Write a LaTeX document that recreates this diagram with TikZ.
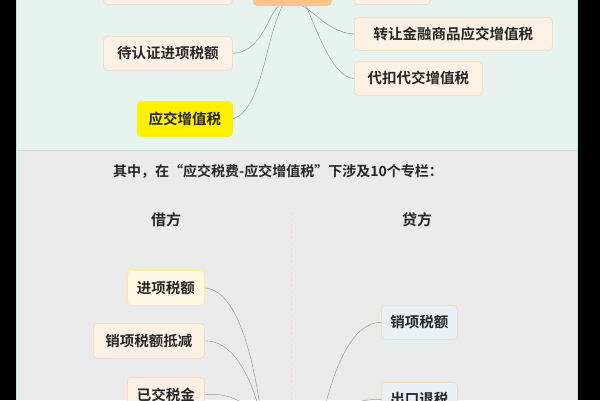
\documentclass[tikz,border=0pt]{standalone}
\usepackage{fontspec}
\setmainfont{Noto Sans CJK SC Bold}
\definecolor{topbg}{HTML}{E7F3EE}
\definecolor{botbg}{HTML}{EBEBEB}
\definecolor{edge}{HTML}{BFE3D6}
\definecolor{obox}{HTML}{FDF1E6}
\definecolor{obord}{HTML}{F7DCC4}
\definecolor{cbox}{HTML}{FBC48F}
\definecolor{ybord}{HTML}{FBEE9A}
\definecolor{yfill}{HTML}{FEF7E3}
\definecolor{bfill}{HTML}{EAF0F8}
\begin{document}
\begin{tikzpicture}[x=1pt,y=-1pt,
 box/.style={rounded corners=4pt,draw=obord,line width=0.8pt,fill=obox,inner sep=0pt,font=\fontsize{14.5}{14.5}\selectfont,text=black!85},
 ybox/.style={box,draw=ybord,fill=yfill},
 bbox/.style={box,draw=obord,fill=bfill},
 hl/.style={box,draw=yellow,fill=yellow},
 cn/.style={draw=black!40,line width=0.5pt}]
\useasboundingbox (0,0) rectangle (600,400);
\fill[black] (0,0) rectangle (600,400);
\fill[topbg] (16,0) rectangle (578,150);
\fill[botbg] (16,150) rectangle (578,400);
\draw[edge,line width=0.8pt] (16,150) -- (578,150);
\draw[edge,line width=0.8pt] (16.5,0) -- (16.5,400) (577.5,0)--(577.5,400);
% top
\node[box,minimum width=129,minimum height=34,anchor=south west] (tl) at (103,5) {};
\node[box,fill=cbox,draw=cbox,minimum width=78,minimum height=34,anchor=south west] (c) at (253,6) {};
\node[box,minimum width=76,minimum height=34,anchor=south west] (tr) at (354,5) {};
\node[box,minimum width=198,minimum height=33,anchor=north west] (r1) at (354,17) {转让金融商品应交增值税};
\node[box,minimum width=128,minimum height=34,anchor=north west] (r2) at (354,61) {代扣代交增值税};
\node[box,minimum width=129,minimum height=34,anchor=north west] (l1) at (103,36) {待认证进项税额};
\node[hl,minimum width=95,minimum height=35,anchor=north west] (l2) at (137,101) {应交增值税};
\draw[cn] (c.south) ++(-14,0) .. controls (268,15) and (262,52) .. (l1.east);
\draw[cn] (c.south) ++(-10,0) .. controls (265,40) and (262,110) .. (l2.east);
\draw[cn] (c.south) ++(10,0) .. controls (315,12) and (330,33) .. (r1.west);
\draw[cn] (c.south) ++(14,0) .. controls (320,40) and (335,78) .. (r2.west);
% middle
\node[font=\fontsize{14}{14}\selectfont,text=black!85] (t) at (278,171) {其中，在“应交税费-应交增值税”下涉及10个专栏：};
\node[font=\fontsize{15}{15}\selectfont,text=black!85] (jf) at (166,220) {借方};
\node[font=\fontsize{15}{15}\selectfont,text=black!85] (df) at (417,220) {贷方};
\draw[obord,dashed,line width=0.8pt] (291,212) -- (291,400);
% bottom
\node[ybox,minimum width=77,minimum height=35,anchor=north west] (b1) at (127,270) {进项税额};
\node[box,minimum width=111,minimum height=35,anchor=north west] (b2) at (93,323) {销项税额抵减};
\node[box,minimum width=77,minimum height=35,anchor=north west] (b3) at (127,377) {已交税金};
\node[bbox,minimum width=76,minimum height=34,anchor=north west] (d1) at (381,305) {销项税额};
\node[bbox,minimum width=76,minimum height=34,anchor=north west] (d2) at (381,382) {出口退税};
\coordinate (cl) at (262,420);
\coordinate (cr) at (322,420);
\draw[cn] (b1.east) .. controls (230,290) and (250,330) .. (cl);
\draw[cn] (b2.east) .. controls (230,340) and (250,370) .. (cl);
\draw[cn] (b3.east) .. controls (225,392) and (245,400) .. (cl);
\draw[cn] (d1.west) .. controls (355,322) and (335,360) .. (cr);
\draw[cn] (d2.west) .. controls (360,399) and (340,405) .. (cr);
\end{tikzpicture}
\end{document}
